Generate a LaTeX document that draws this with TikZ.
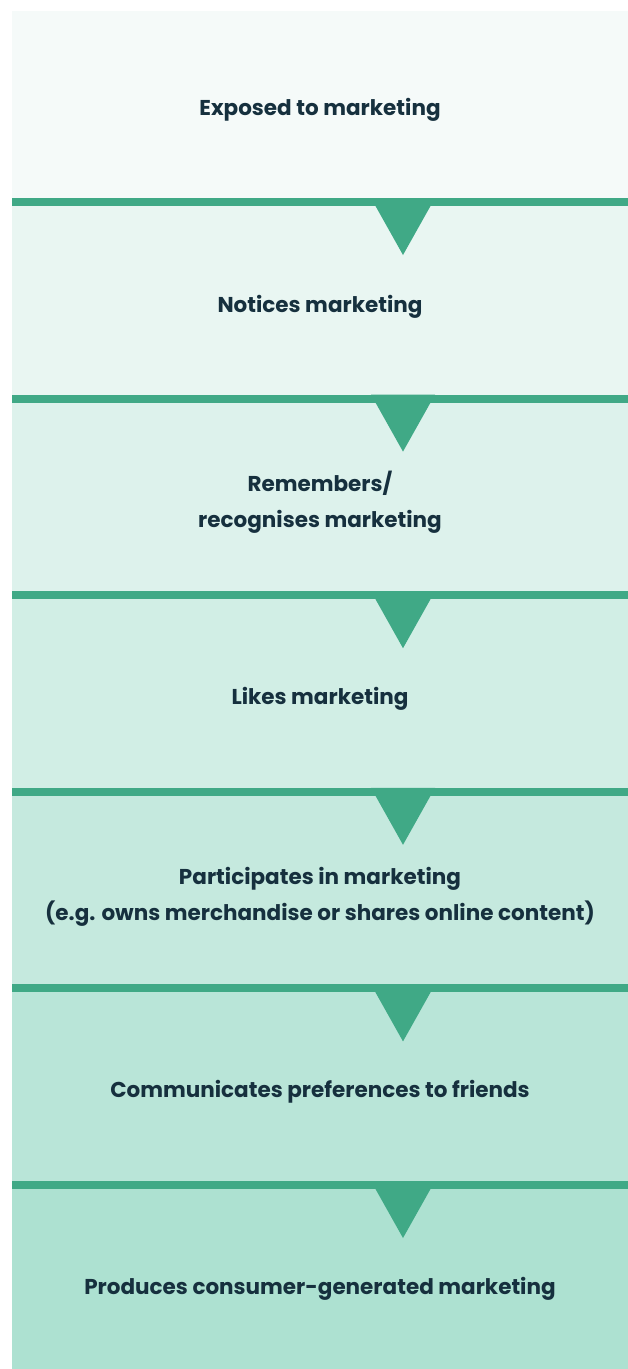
\documentclass[tikz,border=0pt]{standalone}
\usepackage{fontspec}
\setmainfont{Poppins}
\definecolor{barc}{RGB}{64,169,134}
\definecolor{txtc}{RGB}{22,48,62}
\definecolor{s1}{RGB}{245,250,249}
\definecolor{s2}{RGB}{233,246,242}
\definecolor{s3}{RGB}{221,242,236}
\definecolor{s4}{RGB}{209,238,229}
\definecolor{s5}{RGB}{197,233,222}
\definecolor{s6}{RGB}{185,229,216}
\definecolor{s7}{RGB}{173,225,209}
\tikzset{
  lbl/.style={text=txtc,font=\bfseries\fontsize{21.5}{36}\selectfont,align=center,inner sep=0pt},
  barline/.style={fill=barc,draw=none},
  tri/.style={fill=barc,draw=none}
}
\begin{document}
\begin{tikzpicture}[x=1pt,y=-1pt]
\useasboundingbox (0,0) rectangle (628,1369);
% sections
\fill[s1] (12,11) rectangle (628,198);
\foreach \i/\c in {1/s2,2/s3,3/s4,4/s5,5/s6} {
  \pgfmathsetmacro{\top}{198+196.6*(\i-1)}
  \pgfmathsetmacro{\bot}{198+196.6*\i}
  \fill[\c] (12,\top) rectangle (628,\bot);
}
\fill[s7] (12,1181) rectangle (628,1369);
% bars and triangles
\foreach \i in {0,...,5} {
  \pgfmathsetmacro{\b}{198+196.6*\i}
  \fill[barline] (12,\b) rectangle (628,\b+8);
  \fill[tri] (371,\b) -- (435,\b) -- (403,\b+57) -- cycle;
}
% labels
\node[lbl] (t1) at (320,110) {Exposed to marketing};
\node[lbl] (t2) at (320,307) {Notices marketing};
\node[lbl] (t3) at (320,502) {Remembers/\\ recognises marketing};
\node[lbl] (t4) at (320,699) {Likes marketing};
\node[lbl] (t5) at (320,897) {Participates in marketing\\(e.g. owns merchandise or shares online content)};
\node[lbl] (t6) at (320,1092) {Communicates preferences to friends};
\node[lbl] (t7) at (320,1289) {Produces consumer-generated marketing};
\end{tikzpicture}
\end{document}
